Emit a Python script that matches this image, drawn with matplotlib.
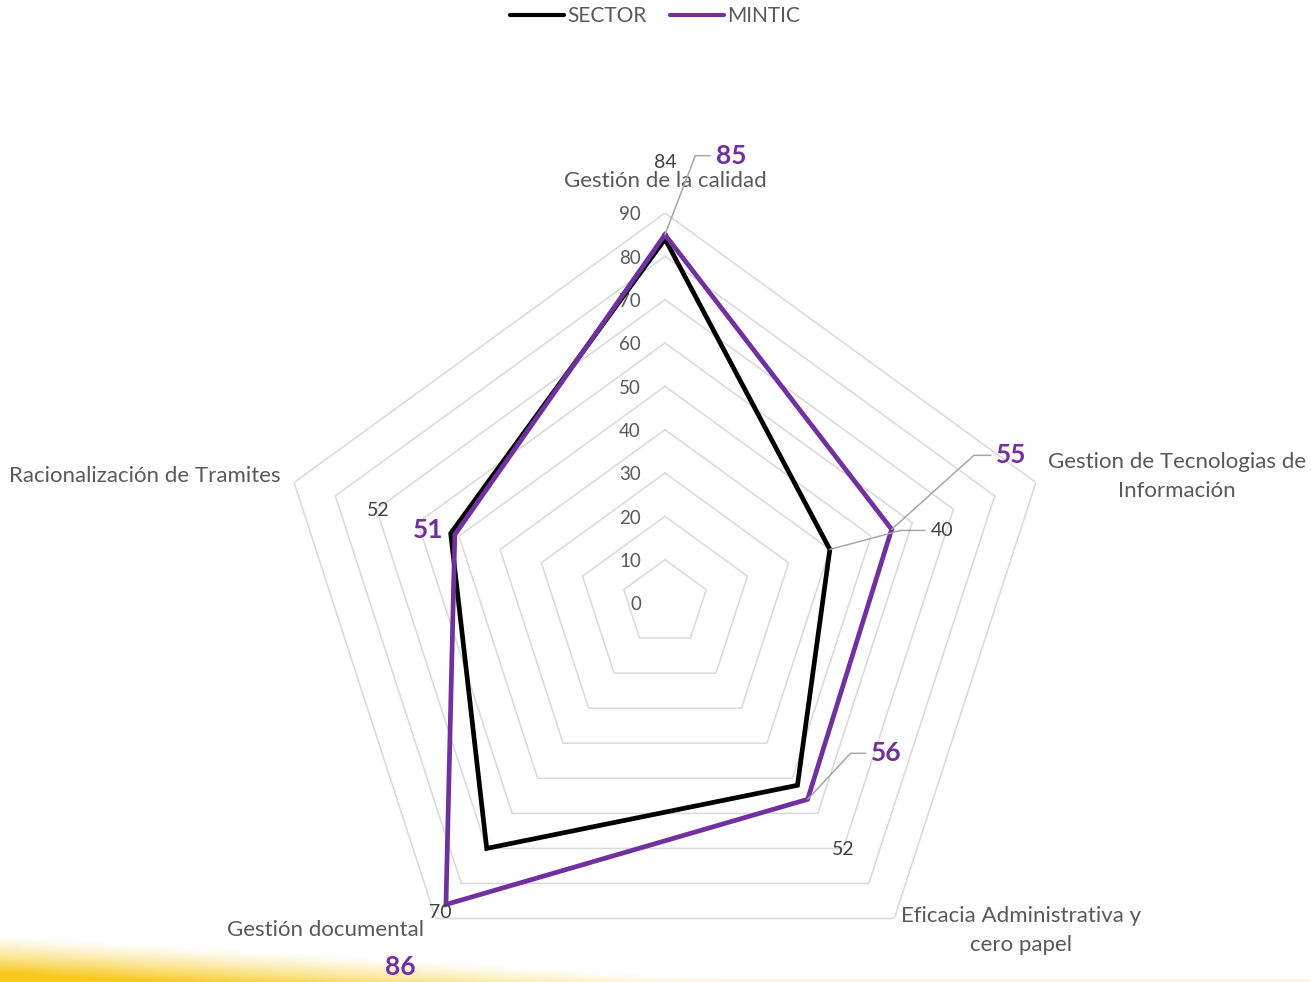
import numpy as np
import matplotlib
matplotlib.use('Agg')
from matplotlib import pyplot as plt
from matplotlib.lines import Line2D

# chart data
categorias = ['Gestión de la calidad',
              'Gestion de Tecnologias de\nInformación',
              'Eficacia Administrativa y\ncero papel',
              'Gestión documental',
              'Racionalización de Tramites']
sector = [84, 40, 52, 70, 52]
mintic = [85, 55, 56, 86, 51]
anillos = [0, 10, 20, 30, 40, 50, 60, 70, 80, 90]

plt.rcParams['font.family'] = ['Lato', 'DejaVu Sans']

W, H = 1311, 982
fig = plt.figure(figsize=(W / 100, H / 100), dpi=100)
fig.patch.set_facecolor('white')

# yellow slide decoration, lower left
gh = 46
xs = np.arange(W)[None, :]
ys = (H - gh + np.arange(gh))[:, None]
s = np.clip((ys - (934 + 0.06 * xs)) / 38.0, 0, 1) ** 1.3
alpha = s * 0.95
alpha[-3:, :] = np.maximum(alpha[-3:, :], 0.12)
img = np.zeros((gh, W, 4))
img[..., 0] = 0.97
img[..., 1] = 0.78
img[..., 2] = 0.08
img[..., 3] = alpha
bg = fig.add_axes([0, 0, 1, gh / H], zorder=0)
bg.imshow(img, aspect='auto', extent=(0, W, 0, gh), interpolation='bilinear')
bg.axis('off')

# polar axes: centre (665, 603) px, radius 390 px for 90
cx, cy, R = 665, 603, 390
ax = fig.add_axes([(cx - R) / W, (H - cy - R) / H, 2 * R / W, 2 * R / H],
                  projection='polar', zorder=1)
ax.patch.set_alpha(0)
ax.set_theta_zero_location('N')
ax.set_theta_direction(-1)
ax.set_ylim(0, 90)
ax.grid(False)
ax.spines['polar'].set_visible(False)
ax.set_xticks([])
ax.set_yticks([])

n = len(categorias)
ang = np.linspace(0, 2 * np.pi, n, endpoint=False)
angc = np.append(ang, ang[0])

# pentagon grid
for r in anillos[1:]:
    ax.plot(angc, [r] * (n + 1), color='#d9d9d9', lw=1.1, zorder=1)

# radial axis labels
for r in anillos:
    ax.annotate(str(r), xy=(0, r), xytext=(-24, -2), textcoords='offset pixels',
                ha='right', va='center', fontsize=13.5, color='#595959')

ax.plot(angc, sector + sector[:1], color='black', lw=3.4, zorder=3,
        solid_joinstyle='miter')
ax.plot(angc, mintic + mintic[:1], color='#7030a0', lw=3.4, zorder=4,
        solid_joinstyle='miter')

# category labels
cat_off = [(0, 32), (141, 6), (127, -12), (-110, -11), (-149, 6)]
for a, lab, off in zip(ang, categorias, cat_off):
    ax.annotate(lab, xy=(a, 90), xytext=off, textcoords='offset pixels',
                ha='center', va='center', fontsize=16, color='#595959',
                multialignment='center', linespacing=1.6)

# data labels
sec_off = [(0, 76), (112, 19), (46, -64), (-46, -64), (-72, 23)]
sec_ang = [None, 15, None, None, None]
for a, v, off, la in zip(ang, sector, sec_off, sec_ang):
    kw = {}
    if la is not None:
        kw['arrowprops'] = dict(arrowstyle='-', color='#a6a6a6', lw=1.1,
                                shrinkA=2, shrinkB=0,
                                connectionstyle='angle,angleA=0,angleB=%d,rad=0' % la)
    ax.annotate(str(v), xy=(a, v), xytext=off, textcoords='offset pixels',
                ha='center', va='center', fontsize=14, color='#404040',
                zorder=6, **kw)

min_off = [(66, 79), (120, 74), (79, 46), (-46, -63), (-27, 5)]
min_ang = [69, 42, 47, None, None]
for a, v, off, la in zip(ang, mintic, min_off, min_ang):
    kw = {}
    if la is not None:
        kw['arrowprops'] = dict(arrowstyle='-', color='#a6a6a6', lw=1.1,
                                shrinkA=2, shrinkB=0,
                                connectionstyle='angle,angleA=0,angleB=%d,rad=0' % la)
    ax.annotate(str(v), xy=(a, v), xytext=off, textcoords='offset pixels',
                ha='center', va='center', fontsize=19, fontweight='bold',
                color='#7030a0', zorder=6, **kw)

# legend
handles = [Line2D([], [], color='black', lw=3, solid_capstyle='round'),
           Line2D([], [], color='#7030a0', lw=3, solid_capstyle='round')]
leg = fig.legend(handles, ['SECTOR', 'MINTIC'], loc='center',
                 bbox_to_anchor=(655 / W, 1 - 16 / H), ncol=2, frameon=False,
                 fontsize=15, handlelength=2.6, handletextpad=0.15,
                 columnspacing=1.1)
for t in leg.get_texts():
    t.set_color('#595959')

fig.savefig('out.png', dpi=100)
